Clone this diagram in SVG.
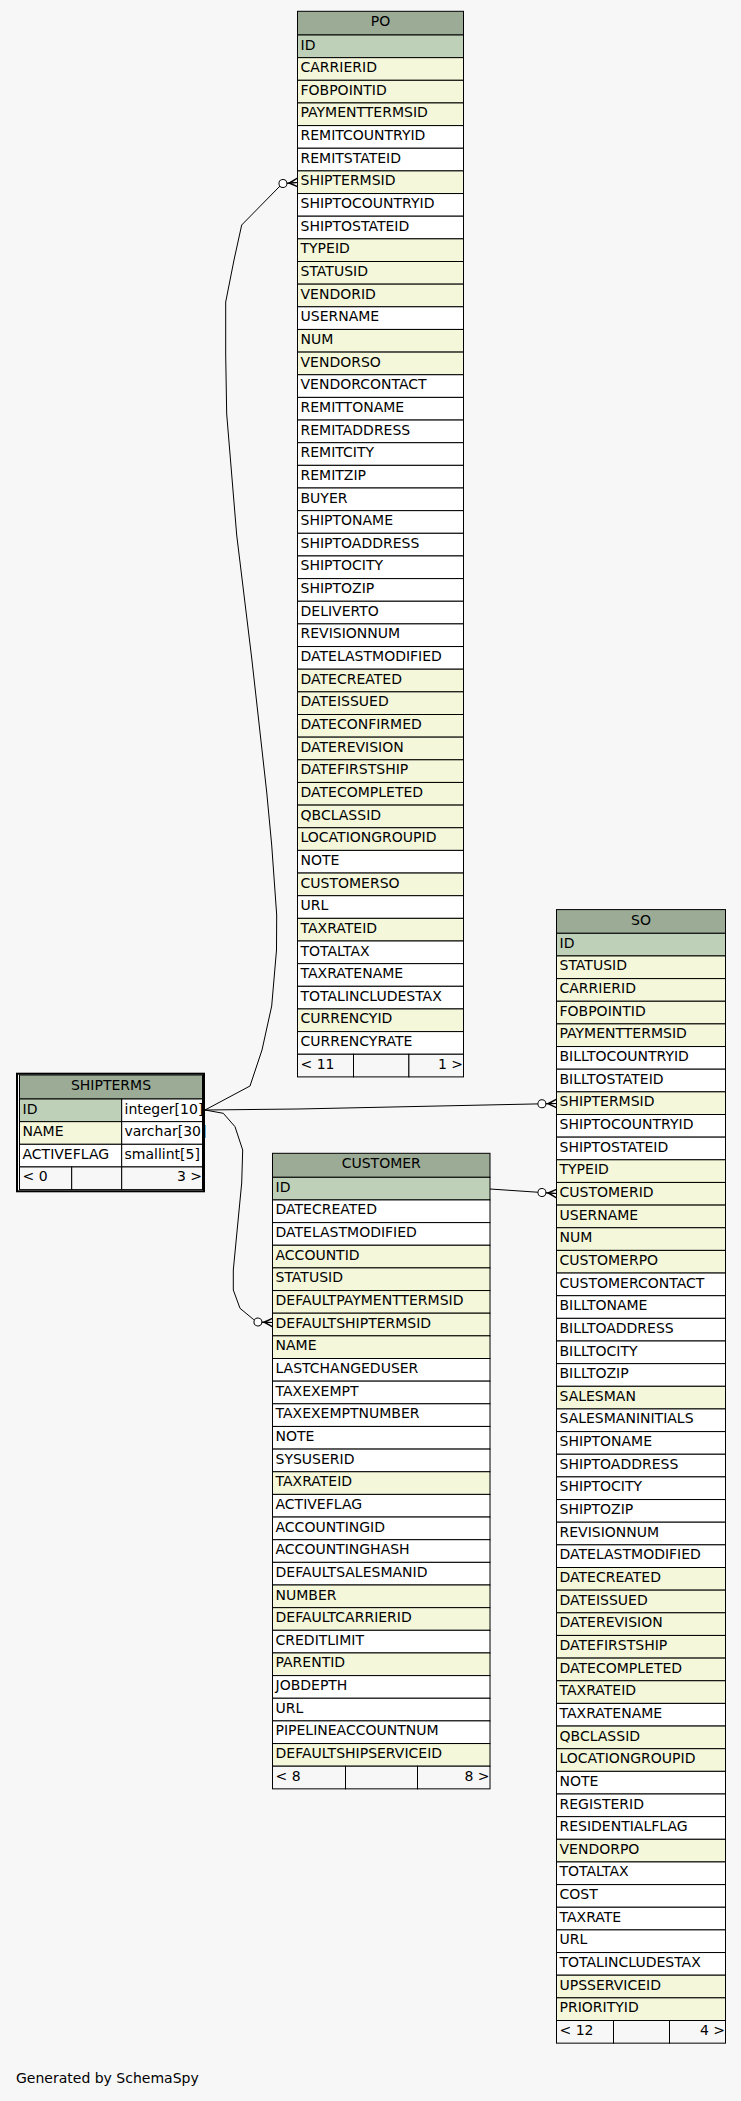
<svg xmlns="http://www.w3.org/2000/svg" width="741" height="2101" viewBox="0 0 741 2101">
<style>
rect{stroke:#000;stroke-width:1}
.h{fill:#9bab96}.p{fill:#bed1b8}.f{fill:#f4f7da}.w{fill:#ffffff}.g{fill:#f7f7f7}
text{font-family:"DejaVu Sans","Liberation Sans",sans-serif;font-size:14px;fill:#000}
.c{text-anchor:middle}.r{text-anchor:end}
.edge{fill:none;stroke:#000;stroke-width:1}
</style>
<defs>
<marker id="crowodot" markerUnits="userSpaceOnUse" markerWidth="20" markerHeight="12" refX="18" refY="6" orient="auto" overflow="visible">
<circle cx="3.4" cy="6" r="4" fill="#ffffff" stroke="#000" stroke-width="1"/>
<path d="M18,1 L8.7,5.6 L8.7,6.4 L18,11 L18,9.4 L11.5,6 L18,2.6 Z" fill="#000"/>
<path d="M7.4,6 H18" stroke="#000" stroke-width="1"/>
</marker>
</defs>
<rect x="0" y="0" width="741" height="2101" fill="#f7f7f7" style="stroke:none"/>

<g id="connectors">
<path class="edge" marker-end="url(#crowodot)" d="M205,1110 L250,1086 L262,1050 L271.7,1006 L276.5,950 L276.7,915 L271.7,845 L266.7,792 L251.7,658 L236.7,535 L226.7,414 L225.7,355 L225.7,302 L234,260 L241.7,225 L279,187 L283,183.5 L297.5,182.5"/>
<path class="edge" marker-end="url(#crowodot)" d="M205,1110 L298,1109 L556.5,1103.5"/>
<path class="edge" marker-end="url(#crowodot)" d="M205,1110 L223.3,1113.3 L235,1126.7 L242.7,1150 L241.7,1183 L233.3,1270 L233.3,1290 L240,1308.3 L253.3,1319.3 L258,1322 L272.5,1322.5"/>
<path class="edge" marker-end="url(#crowodot)" d="M490,1189 L556.5,1193.5"/>
</g>

<g id="PO" transform="translate(297.5,35)">
<rect class="h" x="0" y="-23.7" width="166" height="23.7"/><text class="c" x="83" y="-8.7">PO</text>
<g transform="translate(0,0)"><rect class="p" width="166" height="22.65"/><text x="3" y="14.5">ID</text></g>
<g transform="translate(0,22.65)"><rect class="f" width="166" height="22.65"/><text x="3" y="14.5">CARRIERID</text></g>
<g transform="translate(0,45.3)"><rect class="f" width="166" height="22.65"/><text x="3" y="14.5">FOBPOINTID</text></g>
<g transform="translate(0,67.95)"><rect class="f" width="166" height="22.65"/><text x="3" y="14.5">PAYMENTTERMSID</text></g>
<g transform="translate(0,90.6)"><rect class="w" width="166" height="22.65"/><text x="3" y="14.5">REMITCOUNTRYID</text></g>
<g transform="translate(0,113.25)"><rect class="w" width="166" height="22.65"/><text x="3" y="14.5">REMITSTATEID</text></g>
<g transform="translate(0,135.9)"><rect class="f" width="166" height="22.65"/><text x="3" y="14.5">SHIPTERMSID</text></g>
<g transform="translate(0,158.55)"><rect class="w" width="166" height="22.65"/><text x="3" y="14.5">SHIPTOCOUNTRYID</text></g>
<g transform="translate(0,181.2)"><rect class="w" width="166" height="22.65"/><text x="3" y="14.5">SHIPTOSTATEID</text></g>
<g transform="translate(0,203.85)"><rect class="f" width="166" height="22.65"/><text x="3" y="14.5">TYPEID</text></g>
<g transform="translate(0,226.5)"><rect class="f" width="166" height="22.65"/><text x="3" y="14.5">STATUSID</text></g>
<g transform="translate(0,249.15)"><rect class="f" width="166" height="22.65"/><text x="3" y="14.5">VENDORID</text></g>
<g transform="translate(0,271.8)"><rect class="w" width="166" height="22.65"/><text x="3" y="14.5">USERNAME</text></g>
<g transform="translate(0,294.45)"><rect class="f" width="166" height="22.65"/><text x="3" y="14.5">NUM</text></g>
<g transform="translate(0,317.1)"><rect class="f" width="166" height="22.65"/><text x="3" y="14.5">VENDORSO</text></g>
<g transform="translate(0,339.75)"><rect class="w" width="166" height="22.65"/><text x="3" y="14.5">VENDORCONTACT</text></g>
<g transform="translate(0,362.4)"><rect class="w" width="166" height="22.65"/><text x="3" y="14.5">REMITTONAME</text></g>
<g transform="translate(0,385.05)"><rect class="w" width="166" height="22.65"/><text x="3" y="14.5">REMITADDRESS</text></g>
<g transform="translate(0,407.7)"><rect class="w" width="166" height="22.65"/><text x="3" y="14.5">REMITCITY</text></g>
<g transform="translate(0,430.35)"><rect class="w" width="166" height="22.65"/><text x="3" y="14.5">REMITZIP</text></g>
<g transform="translate(0,453)"><rect class="w" width="166" height="22.65"/><text x="3" y="14.5">BUYER</text></g>
<g transform="translate(0,475.65)"><rect class="w" width="166" height="22.65"/><text x="3" y="14.5">SHIPTONAME</text></g>
<g transform="translate(0,498.3)"><rect class="w" width="166" height="22.65"/><text x="3" y="14.5">SHIPTOADDRESS</text></g>
<g transform="translate(0,520.95)"><rect class="w" width="166" height="22.65"/><text x="3" y="14.5">SHIPTOCITY</text></g>
<g transform="translate(0,543.6)"><rect class="w" width="166" height="22.65"/><text x="3" y="14.5">SHIPTOZIP</text></g>
<g transform="translate(0,566.25)"><rect class="w" width="166" height="22.65"/><text x="3" y="14.5">DELIVERTO</text></g>
<g transform="translate(0,588.9)"><rect class="w" width="166" height="22.65"/><text x="3" y="14.5">REVISIONNUM</text></g>
<g transform="translate(0,611.55)"><rect class="w" width="166" height="22.65"/><text x="3" y="14.5">DATELASTMODIFIED</text></g>
<g transform="translate(0,634.2)"><rect class="f" width="166" height="22.65"/><text x="3" y="14.5">DATECREATED</text></g>
<g transform="translate(0,656.85)"><rect class="f" width="166" height="22.65"/><text x="3" y="14.5">DATEISSUED</text></g>
<g transform="translate(0,679.5)"><rect class="f" width="166" height="22.65"/><text x="3" y="14.5">DATECONFIRMED</text></g>
<g transform="translate(0,702.15)"><rect class="f" width="166" height="22.65"/><text x="3" y="14.5">DATEREVISION</text></g>
<g transform="translate(0,724.8)"><rect class="f" width="166" height="22.65"/><text x="3" y="14.5">DATEFIRSTSHIP</text></g>
<g transform="translate(0,747.45)"><rect class="f" width="166" height="22.65"/><text x="3" y="14.5">DATECOMPLETED</text></g>
<g transform="translate(0,770.1)"><rect class="f" width="166" height="22.65"/><text x="3" y="14.5">QBCLASSID</text></g>
<g transform="translate(0,792.75)"><rect class="f" width="166" height="22.65"/><text x="3" y="14.5">LOCATIONGROUPID</text></g>
<g transform="translate(0,815.4)"><rect class="w" width="166" height="22.65"/><text x="3" y="14.5">NOTE</text></g>
<g transform="translate(0,838.05)"><rect class="f" width="166" height="22.65"/><text x="3" y="14.5">CUSTOMERSO</text></g>
<g transform="translate(0,860.7)"><rect class="w" width="166" height="22.65"/><text x="3" y="14.5">URL</text></g>
<g transform="translate(0,883.35)"><rect class="f" width="166" height="22.65"/><text x="3" y="14.5">TAXRATEID</text></g>
<g transform="translate(0,906)"><rect class="w" width="166" height="22.65"/><text x="3" y="14.5">TOTALTAX</text></g>
<g transform="translate(0,928.65)"><rect class="w" width="166" height="22.65"/><text x="3" y="14.5">TAXRATENAME</text></g>
<g transform="translate(0,951.3)"><rect class="w" width="166" height="22.65"/><text x="3" y="14.5">TOTALINCLUDESTAX</text></g>
<g transform="translate(0,973.95)"><rect class="f" width="166" height="22.65"/><text x="3" y="14.5">CURRENCYID</text></g>
<g transform="translate(0,996.6)"><rect class="w" width="166" height="22.65"/><text x="3" y="14.5">CURRENCYRATE</text></g>
<g transform="translate(0,1019.25)"><rect class="g" x="0" width="56" height="22.65"/><rect class="g" x="56" width="55.4" height="22.65"/><rect class="g" x="111.4" width="54.6" height="22.65"/><text x="3" y="14.5">&lt; 11</text><text class="r" x="165.5" y="14.5">1 &gt;</text></g>
</g>

<g id="SO" transform="translate(556.5,933.3)">
<rect class="h" x="0" y="-23.7" width="169" height="23.7"/><text class="c" x="84.5" y="-8.7">SO</text>
<g transform="translate(0,0)"><rect class="p" width="169" height="22.65"/><text x="3" y="14.5">ID</text></g>
<g transform="translate(0,22.65)"><rect class="f" width="169" height="22.65"/><text x="3" y="14.5">STATUSID</text></g>
<g transform="translate(0,45.3)"><rect class="f" width="169" height="22.65"/><text x="3" y="14.5">CARRIERID</text></g>
<g transform="translate(0,67.95)"><rect class="f" width="169" height="22.65"/><text x="3" y="14.5">FOBPOINTID</text></g>
<g transform="translate(0,90.6)"><rect class="f" width="169" height="22.65"/><text x="3" y="14.5">PAYMENTTERMSID</text></g>
<g transform="translate(0,113.25)"><rect class="w" width="169" height="22.65"/><text x="3" y="14.5">BILLTOCOUNTRYID</text></g>
<g transform="translate(0,135.9)"><rect class="w" width="169" height="22.65"/><text x="3" y="14.5">BILLTOSTATEID</text></g>
<g transform="translate(0,158.55)"><rect class="f" width="169" height="22.65"/><text x="3" y="14.5">SHIPTERMSID</text></g>
<g transform="translate(0,181.2)"><rect class="w" width="169" height="22.65"/><text x="3" y="14.5">SHIPTOCOUNTRYID</text></g>
<g transform="translate(0,203.85)"><rect class="w" width="169" height="22.65"/><text x="3" y="14.5">SHIPTOSTATEID</text></g>
<g transform="translate(0,226.5)"><rect class="f" width="169" height="22.65"/><text x="3" y="14.5">TYPEID</text></g>
<g transform="translate(0,249.15)"><rect class="f" width="169" height="22.65"/><text x="3" y="14.5">CUSTOMERID</text></g>
<g transform="translate(0,271.8)"><rect class="f" width="169" height="22.65"/><text x="3" y="14.5">USERNAME</text></g>
<g transform="translate(0,294.45)"><rect class="f" width="169" height="22.65"/><text x="3" y="14.5">NUM</text></g>
<g transform="translate(0,317.1)"><rect class="f" width="169" height="22.65"/><text x="3" y="14.5">CUSTOMERPO</text></g>
<g transform="translate(0,339.75)"><rect class="w" width="169" height="22.65"/><text x="3" y="14.5">CUSTOMERCONTACT</text></g>
<g transform="translate(0,362.4)"><rect class="w" width="169" height="22.65"/><text x="3" y="14.5">BILLTONAME</text></g>
<g transform="translate(0,385.05)"><rect class="w" width="169" height="22.65"/><text x="3" y="14.5">BILLTOADDRESS</text></g>
<g transform="translate(0,407.7)"><rect class="w" width="169" height="22.65"/><text x="3" y="14.5">BILLTOCITY</text></g>
<g transform="translate(0,430.35)"><rect class="w" width="169" height="22.65"/><text x="3" y="14.5">BILLTOZIP</text></g>
<g transform="translate(0,453)"><rect class="f" width="169" height="22.65"/><text x="3" y="14.5">SALESMAN</text></g>
<g transform="translate(0,475.65)"><rect class="w" width="169" height="22.65"/><text x="3" y="14.5">SALESMANINITIALS</text></g>
<g transform="translate(0,498.3)"><rect class="w" width="169" height="22.65"/><text x="3" y="14.5">SHIPTONAME</text></g>
<g transform="translate(0,520.95)"><rect class="w" width="169" height="22.65"/><text x="3" y="14.5">SHIPTOADDRESS</text></g>
<g transform="translate(0,543.6)"><rect class="w" width="169" height="22.65"/><text x="3" y="14.5">SHIPTOCITY</text></g>
<g transform="translate(0,566.25)"><rect class="w" width="169" height="22.65"/><text x="3" y="14.5">SHIPTOZIP</text></g>
<g transform="translate(0,588.9)"><rect class="w" width="169" height="22.65"/><text x="3" y="14.5">REVISIONNUM</text></g>
<g transform="translate(0,611.55)"><rect class="w" width="169" height="22.65"/><text x="3" y="14.5">DATELASTMODIFIED</text></g>
<g transform="translate(0,634.2)"><rect class="f" width="169" height="22.65"/><text x="3" y="14.5">DATECREATED</text></g>
<g transform="translate(0,656.85)"><rect class="f" width="169" height="22.65"/><text x="3" y="14.5">DATEISSUED</text></g>
<g transform="translate(0,679.5)"><rect class="f" width="169" height="22.65"/><text x="3" y="14.5">DATEREVISION</text></g>
<g transform="translate(0,702.15)"><rect class="f" width="169" height="22.65"/><text x="3" y="14.5">DATEFIRSTSHIP</text></g>
<g transform="translate(0,724.8)"><rect class="f" width="169" height="22.65"/><text x="3" y="14.5">DATECOMPLETED</text></g>
<g transform="translate(0,747.45)"><rect class="f" width="169" height="22.65"/><text x="3" y="14.5">TAXRATEID</text></g>
<g transform="translate(0,770.1)"><rect class="w" width="169" height="22.65"/><text x="3" y="14.5">TAXRATENAME</text></g>
<g transform="translate(0,792.75)"><rect class="f" width="169" height="22.65"/><text x="3" y="14.5">QBCLASSID</text></g>
<g transform="translate(0,815.4)"><rect class="f" width="169" height="22.65"/><text x="3" y="14.5">LOCATIONGROUPID</text></g>
<g transform="translate(0,838.05)"><rect class="w" width="169" height="22.65"/><text x="3" y="14.5">NOTE</text></g>
<g transform="translate(0,860.7)"><rect class="w" width="169" height="22.65"/><text x="3" y="14.5">REGISTERID</text></g>
<g transform="translate(0,883.35)"><rect class="w" width="169" height="22.65"/><text x="3" y="14.5">RESIDENTIALFLAG</text></g>
<g transform="translate(0,906)"><rect class="f" width="169" height="22.65"/><text x="3" y="14.5">VENDORPO</text></g>
<g transform="translate(0,928.65)"><rect class="w" width="169" height="22.65"/><text x="3" y="14.5">TOTALTAX</text></g>
<g transform="translate(0,951.3)"><rect class="w" width="169" height="22.65"/><text x="3" y="14.5">COST</text></g>
<g transform="translate(0,973.95)"><rect class="w" width="169" height="22.65"/><text x="3" y="14.5">TAXRATE</text></g>
<g transform="translate(0,996.6)"><rect class="w" width="169" height="22.65"/><text x="3" y="14.5">URL</text></g>
<g transform="translate(0,1019.25)"><rect class="w" width="169" height="22.65"/><text x="3" y="14.5">TOTALINCLUDESTAX</text></g>
<g transform="translate(0,1041.9)"><rect class="f" width="169" height="22.65"/><text x="3" y="14.5">UPSSERVICEID</text></g>
<g transform="translate(0,1064.55)"><rect class="f" width="169" height="22.65"/><text x="3" y="14.5">PRIORITYID</text></g>
<g transform="translate(0,1087.2)"><rect class="g" x="0" width="57" height="22.65"/><rect class="g" x="57" width="56" height="22.65"/><rect class="g" x="113" width="56" height="22.65"/><text x="3" y="14.5">&lt; 12</text><text class="r" x="168.5" y="14.5">4 &gt;</text></g>
</g>

<g id="CUSTOMER" transform="translate(272.5,1177.3)">
<rect class="h" x="0" y="-24" width="217.5" height="24"/><text class="c" x="108.75" y="-9">CUSTOMER</text>
<g transform="translate(0,0)"><rect class="p" width="217.5" height="22.65"/><text x="3" y="14.5">ID</text></g>
<g transform="translate(0,22.65)"><rect class="w" width="217.5" height="22.65"/><text x="3" y="14.5">DATECREATED</text></g>
<g transform="translate(0,45.3)"><rect class="w" width="217.5" height="22.65"/><text x="3" y="14.5">DATELASTMODIFIED</text></g>
<g transform="translate(0,67.95)"><rect class="f" width="217.5" height="22.65"/><text x="3" y="14.5">ACCOUNTID</text></g>
<g transform="translate(0,90.6)"><rect class="f" width="217.5" height="22.65"/><text x="3" y="14.5">STATUSID</text></g>
<g transform="translate(0,113.25)"><rect class="f" width="217.5" height="22.65"/><text x="3" y="14.5">DEFAULTPAYMENTTERMSID</text></g>
<g transform="translate(0,135.9)"><rect class="f" width="217.5" height="22.65"/><text x="3" y="14.5">DEFAULTSHIPTERMSID</text></g>
<g transform="translate(0,158.55)"><rect class="f" width="217.5" height="22.65"/><text x="3" y="14.5">NAME</text></g>
<g transform="translate(0,181.2)"><rect class="w" width="217.5" height="22.65"/><text x="3" y="14.5">LASTCHANGEDUSER</text></g>
<g transform="translate(0,203.85)"><rect class="w" width="217.5" height="22.65"/><text x="3" y="14.5">TAXEXEMPT</text></g>
<g transform="translate(0,226.5)"><rect class="w" width="217.5" height="22.65"/><text x="3" y="14.5">TAXEXEMPTNUMBER</text></g>
<g transform="translate(0,249.15)"><rect class="w" width="217.5" height="22.65"/><text x="3" y="14.5">NOTE</text></g>
<g transform="translate(0,271.8)"><rect class="w" width="217.5" height="22.65"/><text x="3" y="14.5">SYSUSERID</text></g>
<g transform="translate(0,294.45)"><rect class="f" width="217.5" height="22.65"/><text x="3" y="14.5">TAXRATEID</text></g>
<g transform="translate(0,317.1)"><rect class="w" width="217.5" height="22.65"/><text x="3" y="14.5">ACTIVEFLAG</text></g>
<g transform="translate(0,339.75)"><rect class="w" width="217.5" height="22.65"/><text x="3" y="14.5">ACCOUNTINGID</text></g>
<g transform="translate(0,362.4)"><rect class="w" width="217.5" height="22.65"/><text x="3" y="14.5">ACCOUNTINGHASH</text></g>
<g transform="translate(0,385.05)"><rect class="w" width="217.5" height="22.65"/><text x="3" y="14.5">DEFAULTSALESMANID</text></g>
<g transform="translate(0,407.7)"><rect class="f" width="217.5" height="22.65"/><text x="3" y="14.5">NUMBER</text></g>
<g transform="translate(0,430.35)"><rect class="f" width="217.5" height="22.65"/><text x="3" y="14.5">DEFAULTCARRIERID</text></g>
<g transform="translate(0,453)"><rect class="w" width="217.5" height="22.65"/><text x="3" y="14.5">CREDITLIMIT</text></g>
<g transform="translate(0,475.65)"><rect class="f" width="217.5" height="22.65"/><text x="3" y="14.5">PARENTID</text></g>
<g transform="translate(0,498.3)"><rect class="w" width="217.5" height="22.65"/><text x="3" y="14.5">JOBDEPTH</text></g>
<g transform="translate(0,520.95)"><rect class="w" width="217.5" height="22.65"/><text x="3" y="14.5">URL</text></g>
<g transform="translate(0,543.6)"><rect class="w" width="217.5" height="22.65"/><text x="3" y="14.5">PIPELINEACCOUNTNUM</text></g>
<g transform="translate(0,566.25)"><rect class="f" width="217.5" height="22.65"/><text x="3" y="14.5">DEFAULTSHIPSERVICEID</text></g>
<g transform="translate(0,588.9)"><rect class="g" x="0" width="73" height="22.65"/><rect class="g" x="73" width="72" height="22.65"/><rect class="g" x="145" width="72.5" height="22.65"/><text x="3" y="14.5">&lt; 8</text><text class="r" x="217" y="14.5">8 &gt;</text></g>
</g>

<g id="SHIPTERMS">
<rect x="17" y="1073.7" width="187" height="117.6" style="fill:none;stroke-width:2"/>
<g transform="translate(19.5,1099)">
<rect class="h" x="0" y="-24" width="183" height="24"/><text class="c" x="91.5" y="-9">SHIPTERMS</text>
<g transform="translate(0,0)"><rect class="p" width="102.2" height="22.65"/><rect class="w" x="102.2" width="80.8" height="22.65"/><text x="3" y="14.5">ID</text><text x="105" y="14.5">integer[10]</text></g>
<g transform="translate(0,22.65)"><rect class="f" width="102.2" height="22.65"/><rect class="w" x="102.2" width="80.8" height="22.65"/><text x="3" y="14.5">NAME</text><text x="105" y="14.5">varchar[30]</text></g>
<g transform="translate(0,45.3)"><rect class="w" width="102.2" height="22.65"/><rect class="w" x="102.2" width="80.8" height="22.65"/><text x="3" y="14.5">ACTIVEFLAG</text><text x="105" y="14.5">smallint[5]</text></g>
<g transform="translate(0,67.95)"><rect class="g" x="0" width="52.2" height="22.65"/><rect class="g" x="52.2" width="50" height="22.65"/><rect class="g" x="102.2" width="80.8" height="22.65"/><text x="3" y="14.5">&lt; 0</text><text class="r" x="182.5" y="14.5">3 &gt;</text></g>
</g>
</g>

<text x="16" y="2083.3">Generated by SchemaSpy</text>
</svg>
